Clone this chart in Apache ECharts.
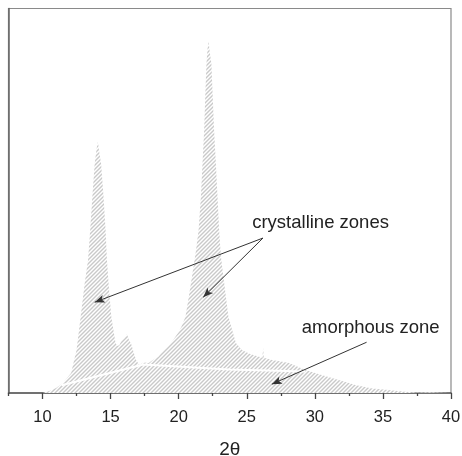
<!DOCTYPE html>
<html>
<head>
<meta charset="utf-8">
<script src="https://cdn.jsdelivr.net/npm/echarts@6/dist/echarts.min.js"></script>
<style>html,body{margin:0;padding:0;background:#fff}#c{width:462px;height:456px}</style>
</head>
<body>
<div id="c"></div>
<script>
// 2θ positions and intensities (arbitrary units, 0–100 = plot height)
var twoTheta = [10.0,10.5,11.0,11.5,12.1,12.5,12.8,13.1,13.34,13.5,13.66,13.83,13.97,14.07,14.15,14.3,14.48,14.63,14.73,14.85,15.05,15.36,15.5,15.65,15.8,15.9,16.0,16.1,16.2,16.26,16.35,16.5,16.7,16.87,17.1,17.4,17.8,18.1,18.5,18.8,19.2,19.6,19.95,20.2,20.5,20.9,21.27,21.46,21.63,21.75,21.87,21.95,22.04,22.12,22.19,22.27,22.4,22.5,22.6,22.73,22.85,22.97,23.1,23.34,23.65,24.2,24.65,25.2,25.9,26.15,26.2,26.25,26.85,27.5,28.1,28.7,29.3,30.5,31.75,32.97,34.2,35.4,36.6,37.5,38.5,40.0];
var intensity = [0,0.5,1.3,2.6,5.2,11.2,19.8,28.6,34.5,42.3,51,59.6,63.5,65.3,63,59.6,51,42.3,34.5,28.5,19.8,13,12.2,12.5,13.6,13.2,14.2,13.7,15.3,15.1,13.8,12.9,10.5,8.6,7.3,7.9,7.8,8.6,9.4,10.8,12,13.8,15.6,17.2,19.8,28.5,37,42.3,51,59.7,68.3,77,85.6,89.5,91.5,89,85.6,77,68.3,59.7,51,42.3,35.5,28.6,19.8,13,11.2,10.2,9.4,9.2,11.7,9.2,8.6,8.2,7.8,6.9,6,4.7,3.4,2.1,1.2,0.8,0.3,0.1,0.2,0.1];
// amorphous baseline
var baseX = [11.4,17.4,23.7,29.3];
var baseY = [2.0,7.4,6.1,5.6];
// x axis ticks
var majorTicks = [10,15,20,25,30,35,40];
var minorTicks = [7.5,12.5,17.5,22.5,27.5,32.5,37.5];
// annotations
var crystText = 'crystalline zones', crystAt = [30.42,44.2];
var crystFrom = [26.19,40.3], crystTo1 = [13.83,23.6], crystTo2 = [21.8,24.9];
var amorText = 'amorphous zone', amorAt = [34.1,16.9];
var amorFrom = [33.8,13.2], amorTo = [26.84,2.3];

function zip(a,b){return a.map(function(v,i){return [v,b[i]];});}

var pc = document.createElement('canvas');
pc.width = 4; pc.height = 4;
var g = pc.getContext('2d');
g.fillStyle = '#fff'; g.fillRect(0,0,4,4);
g.strokeStyle = '#c9c9c9'; g.lineWidth = 1.4;
g.beginPath();
g.moveTo(-1,5); g.lineTo(5,-1);
g.moveTo(-1,1); g.lineTo(1,-1);
g.moveTo(3,5); g.lineTo(5,3);
g.stroke();

var font = '"Liberation Sans", Arial, Helvetica, sans-serif';
var chart = echarts.init(document.getElementById('c'), null, {renderer:'canvas'});
chart.setOption({
  animation:false,
  backgroundColor:'#fff',
  grid:{left:8.5,right:11,top:8.5,bottom:63,containLabel:false,outerBoundsMode:'none',show:true,borderColor:'#8a8a8a',borderWidth:1.2,backgroundColor:'transparent'},
  xAxis:[{
    type:'value',min:7.5,max:40,
    name:'2θ',nameLocation:'middle',nameGap:47,
    nameTextStyle:{fontFamily:font,fontSize:19,color:'#222'},
    axisLine:{show:true,lineStyle:{color:'#555',width:1.5}},
    axisTick:{show:true,customValues:majorTicks,length:6,lineStyle:{color:'#444',width:1.3}},
    axisLabel:{customValues:majorTicks,margin:16,fontFamily:font,fontSize:16.5,color:'#222'},
    splitLine:{show:false}
  },{
    type:'value',min:7.5,max:40,position:'bottom',
    axisLine:{show:false},
    axisTick:{show:true,customValues:minorTicks,length:3,lineStyle:{color:'#444',width:1.3}},
    axisLabel:{show:false},
    splitLine:{show:false}
  }],
  yAxis:{type:'value',min:0,max:100,
    axisLine:{show:true,lineStyle:{color:'#666',width:1.5}},
    axisTick:{show:false},axisLabel:{show:false},splitLine:{show:false}},
  series:[{
    type:'line',data:zip(twoTheta,intensity),symbol:'none',
    lineStyle:{width:0},
    areaStyle:{color:{image:pc,repeat:'repeat'},opacity:1},
    z:2
  },{
    type:'line',data:zip(baseX,baseY),symbol:'none',
    lineStyle:{color:'#fff',width:2},z:3,
    markLine:{
      silent:true,symbol:['none','arrow'],symbolSize:[6,10],
      lineStyle:{color:'#333',width:1,type:'solid'},
      label:{show:false},
      data:[[{coord:crystFrom},{coord:crystTo1}],[{coord:crystFrom},{coord:crystTo2}],[{coord:amorFrom},{coord:amorTo}]]
    },
    markPoint:{
      silent:true,symbol:'circle',symbolSize:0,
      label:{show:true,position:'inside',fontFamily:font,fontSize:18.5,color:'#222',formatter:function(p){return p.name;}},
      data:[{name:crystText,coord:crystAt},{name:amorText,coord:amorAt}]
    }
  }]
});
</script>
</body>
</html>
